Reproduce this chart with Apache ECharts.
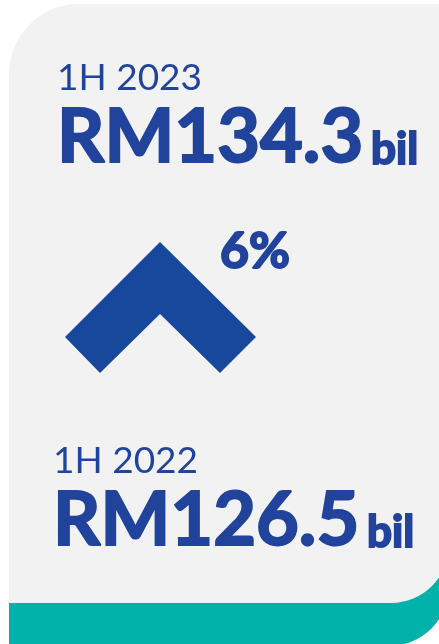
<!DOCTYPE html>
<html lang="en">
<head>
  <meta charset="UTF-8">
  <title>1H 2023 vs 1H 2022</title>
  <script src="https://cdn.jsdelivr.net/npm/echarts@6/dist/echarts.min.js"></script>
  <style>
    html, body { margin: 0; padding: 0; background: #fff; }
    #main { width: 439px; height: 644px; }
  </style>
</head>
<body>
  <div id="main"></div>
<script type="text/javascript">
  // data
  var periods = ['1H 2023', '1H 2022'];
  var values = [134.3, 126.5];
  var unit = 'bil';
  var currency = 'RM';
  var growth = ['6%'];

  var blue = '#21439c';
  var chevronBlue = '#17489b';
  var font = 'Lato, "Noto Sans", sans-serif';

  // heavy text: Lato bold plus a thin stroke so it looks closer to black weight
  function heavy(size) {
    return { font: '700 ' + size + 'px ' + font, fill: blue, stroke: blue, lineWidth: 2, verticalAlign: 'middle' };
  }

  // one block per period: label + big amount + small unit
  function block(i, top, left) {
    return [
      {
        type: 'text', x: left, y: top,
        style: { text: periods[i], font: '400 37px ' + font, fill: blue, verticalAlign: 'middle' }
      },
      {
        type: 'text', x: left, y: top + 59, scaleX: 0.985,
        style: Object.assign({ text: currency + values[i].toFixed(1) }, heavy(75))
      },
      {
        type: 'text', x: left + 314, y: top + 71,
        style: Object.assign({ text: unit }, heavy(44))
      }
    ];
  }

  var chart = echarts.init(document.getElementById('main'));
  chart.setOption({
    backgroundColor: '#ffffff',
    animation: false,
    graphic: [
      { // teal base under the card
        type: 'rect', z: 1,
        shape: { x: 9, y: 480, width: 440, height: 166, r: [0, 0, 60, 0] },
        style: { fill: '#00b2a9' }
      },
      { // grey card
        type: 'rect', z: 2,
        shape: { x: 9, y: 4, width: 440, height: 599, r: [70, 0, 58, 0] },
        style: { fill: '#f2f2f2' }
      },
      { // up chevron
        type: 'polygon', z: 3,
        shape: { points: [[160, 242], [256, 337], [220, 373], [160, 314], [100, 373], [65, 337]] },
        style: { fill: chevronBlue }
      },
      {
        type: 'text', z: 3, x: 220, y: 252,
        style: Object.assign({ text: growth[0] }, heavy(50))
      }
    ].concat(block(0, 78.5, 57), block(1, 461.5, 53)).map(function (g) {
      if (g.z == null) g.z = 3;
      return g;
    })
  });
</script>
</body>
</html>
